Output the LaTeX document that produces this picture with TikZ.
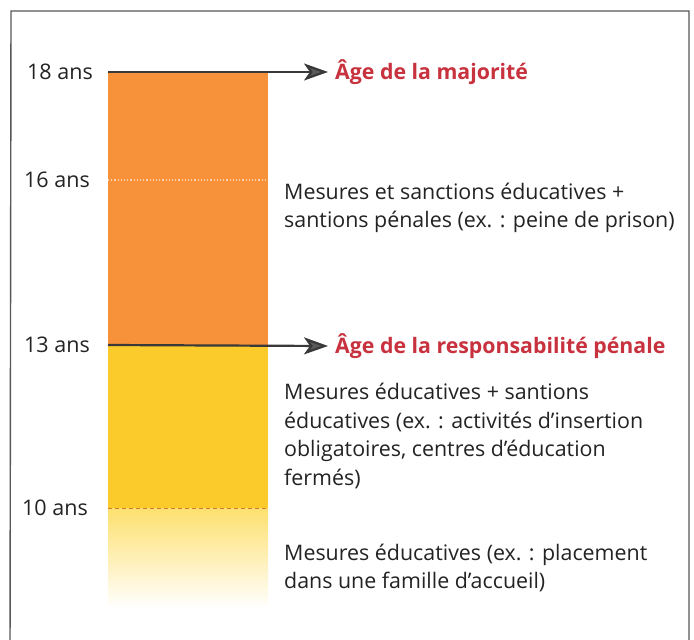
\documentclass[tikz,border=0pt]{standalone}
\usepackage{fontspec}
\setmainfont{Open Sans}
\usetikzlibrary{arrows.meta}
\definecolor{barorange}{RGB}{247,145,58}
\definecolor{baryellow}{RGB}{250,203,42}
\definecolor{fadeyellow}{RGB}{253,224,110}
\definecolor{agered}{RGB}{200,50,62}
\definecolor{inkgray}{RGB}{35,35,35}
\definecolor{framegray}{RGB}{90,85,88}
\tikzset{
  agelabel/.style={anchor=west, inner sep=0pt, text=inkgray, font=\fontsize{21.5}{24}\selectfont},
  desc/.style={anchor=west, inner sep=0pt, align=left, text=inkgray, font=\fontsize{21.4}{28.5}\selectfont},
  milestone/.style={anchor=west, inner sep=0pt, text=agered, font=\fontsize{21.3}{24}\selectfont\bfseries},
  arrowline/.style={draw=inkgray!90, line width=2.2pt, -{Stealth[length=24pt,width=17pt,inset=6pt,fill=inkgray!75]}},
}
\begin{document}
\begin{tikzpicture}[x=1pt,y=-1pt]
\useasboundingbox (0,0) rectangle (694,640);
\fill[white] (0,0) rectangle (694,640);
% frame
\draw[framegray, line width=1.4pt] (10,660) -- (11,11) -- (689,11) -- (689,660);
% bar
\fill[barorange] (108,73) rectangle (268,345);
\fill[baryellow] (108,345) rectangle (268,508);
\shade[top color=fadeyellow, bottom color=white] (108,508) rectangle (268,608);
% separators
\draw[barorange!40!white, line width=1.2pt, dotted] (108,180) -- (268,180);
\draw[barorange!85!black, line width=1pt, dash pattern=on 4pt off 3pt] (108,508) -- (268,508);
% age labels
\node[agelabel] (a18) at (27,72) {18 ans};
\node[agelabel] (a16) at (24,180) {16 ans};
\node[agelabel] (a13) at (24,345) {13 ans};
\node[agelabel] (a10) at (22,508) {10 ans};
% milestones
\coordinate (s18) at (108,72);
\coordinate (s13) at (108,345);
\node[milestone] (maj) at (335,72) {Âge de la majorité};
\node[milestone] (resp) at (335,346) {Âge de la responsabilité pénale};
\draw[arrowline] (s18) -- ([xshift=-7pt]maj.west);
\draw[arrowline] (s13) -- ([xshift=-7pt]resp.west);
% descriptions
\node[desc] (d1) at (284,208) {Mesures et sanctions éducatives +\\santions pénales (ex. : peine de prison)};
\node[desc] (d2) at (284,436) {Mesures éducatives + santions\\éducatives (ex. : activités d’insertion\\obligatoires, centres d’éducation\\fermés)};
\node[desc] (d3) at (284,568) {Mesures éducatives (ex. : placement\\dans une famille d’accueil)};
\end{tikzpicture}
\end{document}
